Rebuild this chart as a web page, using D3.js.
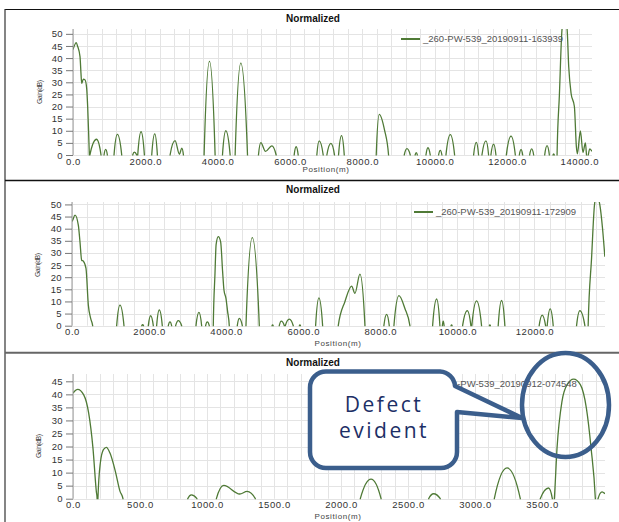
<!DOCTYPE html>
<html><head><meta charset="utf-8">
<script src="https://cdn.jsdelivr.net/npm/d3@7"></script>
<style>body{margin:0;background:#fff;} svg{display:block;}</style>
</head><body>
<svg id="chart" width="619" height="522"></svg>
<script>
// ---------------- DATA ----------------
const titles = ["Normalized", "Normalized", "Normalized"];
const legendLabels = ["_260-PW-539_20190911-163939", "_260-PW-539_20190911-172909", "_260-PW-539_20190912-074548"];
const xAxisTitle = "Position(m)";
const yAxisTitle = "Gain(dB)";
const xTicks1 = [0, 2000, 4000, 6000, 8000, 10000, 12000, 14000];
const xTicks2 = [0, 2000, 4000, 6000, 8000, 10000, 12000];
const xTicks3 = [0, 500, 1000, 1500, 2000, 2500, 3000, 3500];
const yTicks12 = [0, 5, 10, 15, 20, 25, 30, 35, 40, 45, 50];
const yTicks3 = [0, 5, 10, 15, 20, 25, 30, 35, 40, 45];
const calloutText = ["Defect", "evident"];

// [position (m), gain (dB)]
const series1 = [
[0,43.5],[90,46.4],[125,45],[194,40.6],[221,33.6],[240,29.6],[286,31.3],[332,31],[378,27.5],[406,19.8],[433,8.8],[452,0],[458,-2],[466,0],[650,6.5],[775,0],
[787,-30],[846,-30],[858,0],[904,2.3],[950,0],
[962,-30],[1122,-30],[1134,0],[1227,8.5],[1347,0],
[1359,-30],[1639,-30],[1651,0],[1697,1.2],[1762,0],[1776,-4],[1790,0],[1882,9.6],[1974,0],
[1986,-30],[2165,-30],[2177,0],[2260,8.7],[2333,0],
[2345,-30],[2672,-30],[2684,0],[2822,5.9],[2942,0.3],[3007,2.8],[3053,0],
[3065,-30],[3613,-30],[3625,0],[3773,38.6],[3929,0],
[3941,-30],[4121,-30],[4133,0],[4225,10],[4345,0],
[4357,-30],[4471,-30],[4483,0],[4640,37.9],[4825,0],
[4837,-30],[5116,-30],[5128,0],[5194,5.1],[5322,1.5],[5497,3.8],[5617,0],
[5629,-30],[6103,-30],[6115,0],[6170,3.4],[6226,0],
[6238,-30],[6730,-30],[6742,0],[6807,5.8],[6918,0],
[6930,-30],[7007,-30],[7019,0],[7130,4.8],[7231,0],
[7243,-30],[7330,-30],[7342,0],[7425,8],[7500,0],
[7512,-30],[8372,-30],[8384,0],[8467,16.8],[8614,10.3],[8725,0],
[8737,-30],[9147,-30],[9159,0],[9233,2.6],[9325,0],
[9337,-30],[9448,-30],[9460,0],[9491,1],[9520,0],
[9532,-30],[9747,-30],[9759,0],[9814,3],[9878,0],
[9890,-30],[10096,-30],[10108,0],[10155,1.9],[10200,0],
[10212,-30],[10300,-30],[10312,0],[10432,8.4],[10551,0],
[10563,-30],[11065,-30],[11077,0],[11151,5.2],[11214,0],
[11226,-30],[11295,-30],[11307,0],[11418,5.8],[11491,0],
[11503,-30],[11543,-30],[11555,0],[11629,4.5],[11694,0],
[11706,-30],[11969,-30],[11981,0],[12111,7.8],[12230,0],
[12242,-30],[12329,-30],[12341,0],[12388,2.2],[12434,0],
[12446,-30],[12614,-30],[12626,0],[12682,2.5],[12737,0],
[12749,-30],[13030,-30],[13042,0],[13107,3.9],[13171,0],
[13183,-30],[13260,-30],[13272,0],[13290,0.5],[13308,0],
[13320,-30],[13372,-30],[13384,0],[13449,25],[13522,52],[13590,57],[13661,52],[13706,36.5],[13771,25.5],[13863,20],[13918,3.4],[13945,0.5],[14029,9.9],[14100,1],[14167,5],[14214,-2],[14287,2.5],[14350,1.5]
];

const series2 = [
[0,43],[17,43.5],[78,45.6],[164,41.5],[207,34.6],[251,27],[294,26.6],[363,23.6],[424,8.5],[484,3],[536,0],
[548,-30],[1147,-30],[1159,0],[1245,8.5],[1349,0],
[1361,-30],[1798,-30],[1810,0],[1833,0.4],[1856,0],
[1868,-30],[1968,-30],[1980,0],[2041,4.1],[2110,0],
[2122,-30],[2184,-30],[2196,0],[2265,6.5],[2343,0],
[2355,-30],[2487,-30],[2499,0],[2542,1.6],[2585,0],
[2597,-30],[2677,-30],[2689,0],[2758,2.1],[2845,0],
[2857,-30],[3205,-30],[3217,0],[3294,5.5],[3364,0],
[3376,-30],[3455,-30],[3467,0],[3511,1.6],[3562,0],
[3574,-30],[3654,-30],[3666,0],[3709,21],[3740,33.5],[3796,36.7],[3857,34.6],[3908,22.3],[3943,14.7],[3995,11.3],[4038,5.8],[4081,0],
[4093,-30],[4277,-30],[4289,0],[4341,3],[4419,0],
[4431,-30],[4502,-30],[4514,0],[4678,36.3],[4860,0],
[4872,-30],[5178,-30],[5190,0],[5205,0.3],[5220,0],
[5232,-30],[5366,-30],[5378,0],[5430,1.9],[5510,0],[5522,-3],[5534,0],[5638,2.7],[5742,0],
[5754,-30],[5888,-30],[5900,0],[5914,0.3],[5928,0],
[5940,-30],[6309,-30],[6321,0],[6407,11.5],[6503,0],
[6515,-30],[6897,-30],[6909,0],[7081,9.9],[7256,16.3],[7341,13.3],[7471,21.3],[7601,0],
[7613,-30],[8081,-30],[8093,0],[8163,4.7],[8232,0],
[8244,-30],[8341,-30],[8353,0],[8483,12.4],[8638,7.1],[8768,0],
[8780,-30],[9345,-30],[9357,0],[9461,11],[9546,0],
[9558,-30],[9598,-30],[9610,0],[9632,1.9],[9655,0],
[9667,-30],[9823,-30],[9835,0],[9849,0.3],[9863,0],
[9875,-30],[10123,-30],[10135,0],[10256,6.2],[10350,0],[10362,-3],[10375,0],[10497,10.2],[10627,0],
[10639,-30],[10818,-30],[10830,0],[10843,0.3],[10856,0],
[10868,-30],[11047,-30],[11059,0],[11146,10.4],[11232,0],
[11244,-30],[12110,-30],[12122,0],[12200,4.4],[12288,0],[12309,-4],[12330,0],[12408,6.9],[12486,0],
[12498,-30],[13080,-30],[13092,0],[13178,6.2],[13308,0],
[13320,-30],[13381,-30],[13393,0],[13481,27.7],[13567,51],[13630,53],[13697,49.7],[13766,40.1],[13826,28.4]
];

const series3 = [
[0,40.5],[35,41.9],[80,39.8],[117,32.8],[149,19.4],[174,2.8],[180,0],[183,-5],[186,0],[204,13.7],[227,18.8],[249,19.7],[276,17.5],[316,10.5],[351,2.8],[373,0],
[378,-30],[851,-30],[856,0],[883,1.5],[925,0],
[930,-30],[1065,-30],[1070,0],[1125,5.1],[1244,1.8],[1299,2.8],[1361,0],
[1366,-30],[2139,-30],[2144,0],[2224,7.5],[2299,0],
[2304,-30],[2649,-30],[2654,0],[2691,1.9],[2741,0],
[2746,-30],[3139,-30],[3144,0],[3239,11.8],[3338,0],
[3343,-30],[3482,-30],[3487,0],[3549,4.1],[3577,0],[3584,-5],[3592,0],[3612,19.4],[3649,37.3],[3687,43.7],[3736,45.8],[3786,43.7],[3831,34.7],[3866,19.4],[3898,0],
[3905,-8],[3918,0],[3948,2.6],[3970,1.9]
];

// ---------------- LAYOUT ----------------
const lineColor = "#4f7a36";
const gridColor = "#e4e4e4";
const font = "'Liberation Sans', Arial, sans-serif";

const panels = [
  {series: series1, xMax: 14350, yMax: 52, xTicks: xTicks1, yTicks: yTicks12, grid: 400,
   l: 73, r: 592, t: 29, b: 155, titleY: 22, posX: 326, posY: 172, gainX: 39, gainY: 92, legX: 401, legY: 39, idx: 0},
  {series: series2, xMax: 13830, yMax: 51, xTicks: xTicks2, yTicks: yTicks12, grid: 400,
   l: 72, r: 605, t: 202, b: 325.7, titleY: 193, posX: 338, posY: 346, gainX: 37.5, gainY: 265, legX: 414, legY: 212, idx: 1},
  {series: series3, xMax: 3970, yMax: 47.8, xTicks: xTicks3, yTicks: yTicks3, grid: 100,
   l: 73, r: 605, t: 374, b: 498.7, titleY: 366, posX: 338, posY: 519, gainX: 38.3, gainY: 446, legX: 414, legY: 383.5, idx: 2}
];

const svg = d3.select("#chart");
const defs = svg.append("defs");

// frame lines
svg.append("line").attr("x1", 5).attr("x2", 619).attr("y1", 9.5).attr("y2", 9.5).attr("stroke", "#111").attr("stroke-width", 1.2);
svg.append("line").attr("x1", 5).attr("x2", 5).attr("y1", 9).attr("y2", 522).attr("stroke", "#333").attr("stroke-width", 1.2);
svg.append("line").attr("x1", 5).attr("x2", 619).attr("y1", 180.5).attr("y2", 180.5).attr("stroke", "#111").attr("stroke-width", 1.3);
svg.append("line").attr("x1", 5).attr("x2", 619).attr("y1", 352.8).attr("y2", 352.8).attr("stroke", "#666").attr("stroke-width", 2);

panels.forEach(p => {
  const g = svg.append("g");
  const x = d3.scaleLinear().domain([0, p.xMax]).range([p.l, p.r]);
  const y = d3.scaleLinear().domain([0, p.yMax]).range([p.b, p.t]);

  // grid
  const gx = d3.range(0, p.xMax + 1, p.grid);
  g.append("g").selectAll("line").data(gx).join("line")
    .attr("x1", d => Math.round(x(d)) + 0.5).attr("x2", d => Math.round(x(d)) + 0.5)
    .attr("y1", p.t).attr("y2", p.b).attr("stroke", gridColor).attr("stroke-width", 1);
  g.append("g").selectAll("line").data(p.yTicks).join("line")
    .attr("x1", p.l).attr("x2", p.r)
    .attr("y1", d => Math.round(y(d)) + 0.5).attr("y2", d => Math.round(y(d)) + 0.5)
    .attr("stroke", gridColor).attr("stroke-width", 1);

  // clip
  const cid = "clip" + p.idx;
  defs.append("clipPath").attr("id", cid).append("rect")
    .attr("x", p.l).attr("y", p.t).attr("width", p.r - p.l).attr("height", p.b - p.t + 0.5);

  // line
  const line = d3.line().x(d => x(d[0])).y(d => y(d[1])).curve(d3.curveMonotoneX);
  g.append("path").datum(p.series).attr("d", line)
    .attr("fill", "none").attr("stroke", lineColor).attr("stroke-width", 1.3)
    .attr("clip-path", `url(#${cid})`);

  // y axis
  const ya = g.append("g").attr("transform", `translate(${p.l},0)`)
    .call(d3.axisLeft(y).tickValues(p.yTicks).tickSize(7).tickSizeOuter(0).tickPadding(3).tickFormat(d3.format("d")));
  ya.select(".domain").attr("stroke", "#999").attr("d", `M0,${p.t}V${p.b}`);
  ya.selectAll(".tick line").attr("stroke", "#777");
  ya.selectAll("text").attr("font-family", font).attr("font-size", 9.5).attr("fill", "#333").attr("letter-spacing", "0.4px");

  // x axis
  const xa = g.append("g").attr("transform", `translate(0,${p.b})`)
    .call(d3.axisBottom(x).tickValues(p.xTicks).tickSize(0).tickPadding(3).tickFormat(d3.format(".1f")));
  xa.select(".domain").remove();
  xa.selectAll("text").attr("font-family", font).attr("font-size", 9.5).attr("fill", "#333").attr("letter-spacing", "0.6px");

  // title
  g.append("text").attr("x", 313).attr("y", p.titleY).attr("text-anchor", "middle")
    .attr("font-family", font).attr("font-size", 10).attr("font-weight", "bold").attr("fill", "#111")
    .text(titles[p.idx]);

  // axis titles
  g.append("text").attr("x", p.posX).attr("y", p.posY).attr("text-anchor", "middle")
    .attr("font-family", font).attr("font-size", 8).attr("fill", "#444").attr("letter-spacing", "0.6px")
    .text(xAxisTitle);
  g.append("text").attr("transform", `translate(${p.gainX + 2.5},${p.gainY}) rotate(-90)`).attr("text-anchor", "middle")
    .attr("font-family", font).attr("font-size", 7).attr("fill", "#444").attr("textLength", 24)
    .text(yAxisTitle);

  // legend
  g.append("line").attr("x1", p.legX).attr("x2", p.legX + 19).attr("y1", p.legY).attr("y2", p.legY)
    .attr("stroke", lineColor).attr("stroke-width", 2);
  g.append("text").attr("x", p.legX + 22).attr("y", p.legY + 3.3)
    .attr("font-family", font).attr("font-size", 9.5).attr("fill", "#555")
    .text(legendLabels[p.idx]);
});

// callout annotation
const blue = "#3b5e8c";
const co = svg.append("g");
co.append("path")
  .attr("d", "M326,371.5 H440 A16,16 0 0 1 455,386 L522,418 L457,412 V452 A16,16 0 0 1 441,468 H326 A16,16 0 0 1 310,452 V387.5 A16,16 0 0 1 326,371.5 Z")
  .attr("fill", "#fff").attr("stroke", blue).attr("stroke-width", 4.5).attr("stroke-linejoin", "round");
co.selectAll("text").data(calloutText).join("text")
  .attr("x", 384).attr("y", (d, i) => 412 + i * 26).attr("text-anchor", "middle")
  .attr("font-family", "'Open Sans', sans-serif").attr("font-size", 21).attr("fill", "#1d2f66")
  .attr("letter-spacing", "2.5px")
  .text(d => d);
co.append("ellipse").attr("cx", 565.5).attr("cy", 405).attr("rx", 43.5).attr("ry", 52)
  .attr("fill", "none").attr("stroke", blue).attr("stroke-width", 4.5);
</script>
</body></html>
